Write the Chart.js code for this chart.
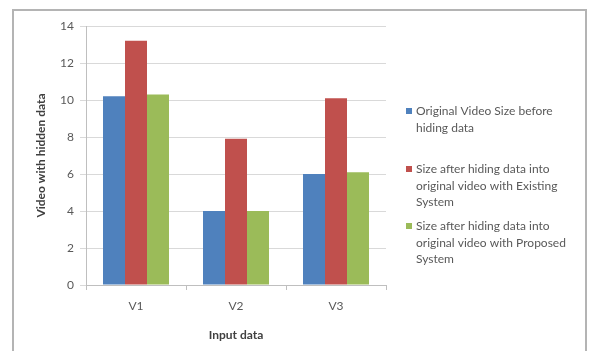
<!DOCTYPE html>
<html>
<head>
<meta charset="utf-8">
<script src="https://cdn.jsdelivr.net/npm/chart.js@4"></script>
<style>
html,body{margin:0;padding:0;background:#fff;}
#wrap{position:relative;width:590px;height:351px;}
#frame{position:absolute;left:12px;top:9px;width:575px;height:360px;border:2px solid #b4b4b4;box-sizing:border-box;}
canvas{position:absolute;left:0;top:0;}
</style>
</head>
<body>
<div id="wrap">
<div id="frame"></div>
<canvas id="c" width="590" height="351"></canvas>
</div>
<script>
const categories = ["V1", "V2", "V3"];
const seriesNames = [
  "Original Video Size before hiding data",
  "Size after hiding data into original video with Existing System",
  "Size after hiding data into original video with Proposed System"
];
const legendLines = [
  ["Original Video Size before", "hiding data"],
  ["Size after hiding data into", "original video with Existing", "System"],
  ["Size after hiding data into", "original video with Proposed", "System"]
];
const originalSize = [10.2, 4.0, 6.0];
const existingSystem = [13.2, 7.9, 10.1];
const proposedSystem = [10.3, 4.0, 6.1];
const yTicks = [0, 2, 4, 6, 8, 10, 12, 14];
const colors = ["#4f81bd", "#c0504d", "#9bbb59"];

const FONT = "Lato, 'Liberation Sans', sans-serif";

const legendPlugin = {
  id: 'sideLegend',
  afterDraw(chart) {
    const ctx = chart.ctx;
    const starts = [111, 169, 226];
    ctx.save();
    ctx.font = "12px " + FONT;
    ctx.textBaseline = "middle";
    chart.data.datasets.forEach((ds, i) => {
      const y0 = starts[i];
      ctx.fillStyle = ds.backgroundColor;
      ctx.fillRect(406, y0 - 3, 6, 6);
      ctx.fillStyle = "#595959";
      legendLines[i].forEach((line, j) => {
        ctx.fillText(line, 416, y0 + j * 16.8);
      });
    });
    ctx.restore();
  }
};

new Chart(document.getElementById('c'), {
  type: 'bar',
  data: {
    labels: categories,
    datasets: [
      { label: seriesNames[0], data: originalSize, backgroundColor: colors[0] },
      { label: seriesNames[1], data: existingSystem, backgroundColor: colors[1] },
      { label: seriesNames[2], data: proposedSystem, backgroundColor: colors[2] }
    ]
  },
  options: {
    responsive: false,
    animation: false,
    devicePixelRatio: 1,
    layout: { padding: { left: 0, right: 204, top: 26, bottom: 0 } },
    datasets: { bar: { categoryPercentage: 0.66, barPercentage: 1.0 } },
    plugins: { legend: { display: false }, tooltip: { enabled: false } },
    scales: {
      x: {
        grid: { display: true, drawOnChartArea: false, color: "#bfbfbf", tickLength: 5, offset: true },
        border: { color: "#bfbfbf" },
        ticks: { color: "#595959", font: { family: FONT, size: 12 }, padding: 9 },
        title: { display: true, text: "Input data", color: "#404040", font: { family: FONT, size: 12, weight: 'bold' }, padding: { top: 4, bottom: 9 } },
        afterFit(s) { s.height = 66; }
      },
      y: {
        min: 0, max: 14,
        afterBuildTicks(s) { s.ticks = yTicks.map(v => ({ value: v })); },
        grid: { color: "#d9d9d9", tickLength: 6 },
        border: { color: "#bfbfbf" },
        ticks: { color: "#595959", font: { family: FONT, size: 12 }, padding: 6 },
        title: { display: true, text: "Video with hidden data", color: "#404040", font: { family: FONT, size: 12, weight: 'bold' }, padding: { top: 34 } },
        afterFit(s) { s.width = 86; }
      }
    }
  },
  plugins: [legendPlugin]
});
</script>
</body>
</html>
